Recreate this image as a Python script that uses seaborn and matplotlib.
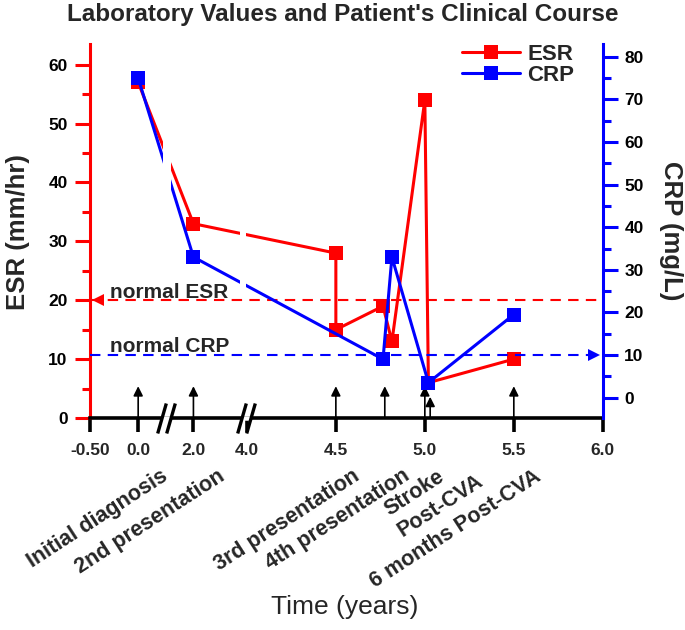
import matplotlib
matplotlib.use("Agg")
import matplotlib.pyplot as plt
import numpy as np
import pandas as pd
import seaborn as sns
from matplotlib.lines import Line2D
from matplotlib.path import Path
from matplotlib.ticker import FixedLocator, MultipleLocator
from matplotlib.scale import FuncScale

# values
esr_years = [0.0, 2.0, 4.5, 4.5, 4.765, 4.815, 5.0, 5.02, 5.5]
esr_values = [57, 33, 28, 15, 19, 13, 54, 6, 10]
crp_years = [0.0, 2.0, 4.765, 4.815, 5.02, 5.5]
crp_values = [75, 33, 9, 33, 3.5, 19.5]

event_years = [0.0, 2.0, 4.5, 4.775, 5.0, 5.03, 5.5]
event_labels = ["Initial diagnosis", "2nd presentation", "3rd presentation",
                "4th presentation", "Stroke", "Post-CVA", "6 months Post-CVA"]

x_ticks = [-0.5, 0.0, 2.0, 4.0, 4.5, 5.0, 5.5, 6.0]
x_tick_labels = ["-0.50", "0.0", "2.0", "4.0", "4.5", "5.0", "5.5", "6.0"]

esr_normal = 20
crp_normal = 10

RED = "#ff0000"
BLUE = "#0000ff"

sns.set_style("ticks")
plt.rcParams['font.family'] = ['Liberation Sans', 'DejaVu Sans']

# broken time axis: piecewise linear mapping years -> screen units
brk_years = np.array([-0.5, 0.0, 2.0, 4.0, 6.0])
brk_units = np.array([0.0, 48.4, 103.6, 157.0, 512.6])


def fwd(x):
    x = np.asarray(x, dtype=float)
    u = np.interp(x, brk_years, brk_units)
    s0 = (brk_units[1] - brk_units[0]) / (brk_years[1] - brk_years[0])
    s1 = (brk_units[-1] - brk_units[-2]) / (brk_years[-1] - brk_years[-2])
    u = np.where(x < brk_years[0], brk_units[0] + (x - brk_years[0]) * s0, u)
    u = np.where(x > brk_years[-1], brk_units[-1] + (x - brk_years[-1]) * s1, u)
    return u


def inv(u):
    u = np.asarray(u, dtype=float)
    x = np.interp(u, brk_units, brk_years)
    s0 = (brk_years[1] - brk_years[0]) / (brk_units[1] - brk_units[0])
    s1 = (brk_years[-1] - brk_years[-2]) / (brk_units[-1] - brk_units[-2])
    x = np.where(u < brk_units[0], brk_years[0] + (u - brk_units[0]) * s0, x)
    x = np.where(u > brk_units[-1], brk_years[-1] + (u - brk_units[-1]) * s1, x)
    return x


fig = plt.figure(figsize=(6.85, 6.3), dpi=100)
ax = fig.add_axes([0.131, 0.3365, 0.749, 0.5935])
ax.set_xscale(FuncScale(ax.xaxis, (fwd, inv)))
ax2 = ax.twinx()

esr_df = pd.DataFrame({"year": esr_years, "value": esr_values})
crp_df = pd.DataFrame({"year": crp_years, "value": crp_values})

sns.lineplot(data=esr_df, x="year", y="value", ax=ax, color=RED, lw=2.2,
             marker="s", markersize=10, markeredgewidth=0, sort=False,
             estimator=None, legend=False)
sns.lineplot(data=crp_df, x="year", y="value", ax=ax2, color=BLUE, lw=2.2,
             marker="s", markersize=10, markeredgewidth=0, sort=False,
             estimator=None, legend=False)

ax.set_xlim(-0.5, 6.0)
ax.set_ylim(0, 63.5)
ax2.set_ylim(-4.8, 83.0)

# normal reference lines
ax.axhline(esr_normal, color=RED, ls=(0, (5, 3.5)), lw=1.5, zorder=1)
ax2.axhline(crp_normal, color=BLUE, ls=(0, (5, 3.5)), lw=1.5, zorder=1)
ax.plot([0.017], [esr_normal], marker="<", color=RED, ms=9, mew=0,
        transform=ax.get_yaxis_transform(), clip_on=False)
ax2.plot([0.983], [crp_normal], marker=">", color=BLUE, ms=9, mew=0,
         transform=ax2.get_yaxis_transform(), clip_on=False)
ax.text(0.04, esr_normal + 0.4, "normal ESR", transform=ax.get_yaxis_transform(),
        fontsize=15, fontweight="bold", va="baseline")
ax2.text(0.04, crp_normal + 0.7, "normal CRP", transform=ax2.get_yaxis_transform(),
         fontsize=15, fontweight="bold", va="baseline")

# gaps in the data lines at the axis breaks
ax2.axvspan(0.9, 1.17, ymin=0.58, ymax=0.8, color="white", lw=0, zorder=5)
ax2.axvspan(3.75, 3.98, ymin=0.335, ymax=0.55, color="white", lw=0, zorder=5)

# event arrows
arrow_tops = [5.4, 5.4, 5.4, 5.4, 5.4, 3.6, 5.4]
for yr, top in zip(event_years, arrow_tops):
    ax.annotate("", xy=(yr, top), xytext=(yr, 0),
                arrowprops=dict(arrowstyle="-|>", color="black", lw=1.2,
                                mutation_scale=14, shrinkA=0, shrinkB=0))

# event labels below the tick labels
label_offsets = [(22, -48), (24, -48), (16, -47), (17, -47), (12, -48), (46, -52), (20, -48)]
for yr, lab, off in zip(event_years, event_labels, label_offsets):
    ax.annotate(lab, xy=(yr, 0), xycoords=("data", "axes fraction"),
                xytext=off, textcoords="offset pixels", ha="right", va="top",
                rotation=33, rotation_mode="anchor", fontsize=15.5, fontweight="bold")

# axis break marks "//"
brk_mark = Path([(-0.587, -1), (-0.013, 1), (0.013, -1), (0.587, 1)],
                [Path.MOVETO, Path.LINETO, Path.MOVETO, Path.LINETO])
brk_fill = Path([(-0.343, -0.15), (0.257, -0.15), (0.343, 0.15), (-0.257, 0.15), (-0.343, -0.15)])
for yb in [1.0, 3.97]:
    ax.plot([yb], [0], marker=brk_fill, ms=21.6 * 0.343, color="white", mec="white", mew=0,
            clip_on=False, zorder=6)
    ax.plot([yb], [0], marker=brk_mark, ms=21.6, color="black", mec="black", mew=2.4,
            clip_on=False, zorder=7)

# spines and ticks
for a in (ax, ax2):
    a.spines["top"].set_visible(False)
ax.spines["right"].set_visible(False)
ax2.spines["left"].set_visible(False)
ax2.spines["bottom"].set_visible(False)
ax.spines["left"].set_color(RED)
ax.spines["left"].set_linewidth(2.2)
ax.spines["bottom"].set_color("black")
ax.spines["bottom"].set_linewidth(2.6)
ax2.spines["right"].set_color(BLUE)
ax2.spines["right"].set_linewidth(2.2)

ax.xaxis.set_major_locator(FixedLocator(x_ticks))
ax.set_xticklabels(x_tick_labels)
ax.xaxis.set_minor_locator(FixedLocator([]))
ax.tick_params(axis="x", direction="out", length=10, width=2.6, color="black",
               labelsize=12.5, pad=8)

ax.yaxis.set_major_locator(MultipleLocator(10))
ax.yaxis.set_minor_locator(MultipleLocator(5))
ax.tick_params(axis="y", which="major", direction="out", length=11, width=2.2,
               color=RED, labelsize=12.5, labelcolor="black", pad=5)
ax.tick_params(axis="y", which="minor", direction="out", length=6, width=2.2, color=RED)

ax2.set_yticks(np.arange(0, 81, 10))
ax2.yaxis.set_minor_locator(MultipleLocator(5))
ax2.tick_params(axis="y", which="major", direction="out", length=10.5, width=2.2,
                color=BLUE, labelsize=12.5, labelcolor="black", pad=5)
ax2.tick_params(axis="y", which="minor", direction="out", length=6, width=2.2, color=BLUE)

for lab in ax.get_xticklabels() + ax.get_yticklabels() + ax2.get_yticklabels():
    lab.set_fontweight("bold")

ax.set_ylabel("ESR (mm/hr)", fontsize=18.5, fontweight="bold", va="center")
ax.yaxis.set_label_coords(-0.14, 0.497)
ax2.set_ylabel("CRP (mg/L)", fontsize=18.5, fontweight="bold", rotation=270, va="center")
ax2.yaxis.set_label_coords(1.133, 0.5)
ax.set_xlabel("Time (years)", fontsize=19)
ax.xaxis.set_label_coords(0.497, -0.474)

fig.text(0.5, 1 - 15 / 630, "Laboratory Values and Patient's Clinical Course",
         ha="center", va="center", fontsize=17.5, fontweight="bold")

handles = [Line2D([], [], color=RED, lw=2.2, marker="s", ms=10, mew=0),
           Line2D([], [], color=BLUE, lw=2.2, marker="s", ms=10, mew=0)]
leg = ax2.legend(handles, ["ESR", "CRP"], loc="upper right", bbox_to_anchor=(0.945, 1.0),
                 frameon=False, handlelength=2.6, handletextpad=0.36, labelspacing=0.0,
                 borderpad=0, borderaxespad=0, prop={"size": 16, "weight": "bold"})

fig.savefig("out.png", dpi=100)
